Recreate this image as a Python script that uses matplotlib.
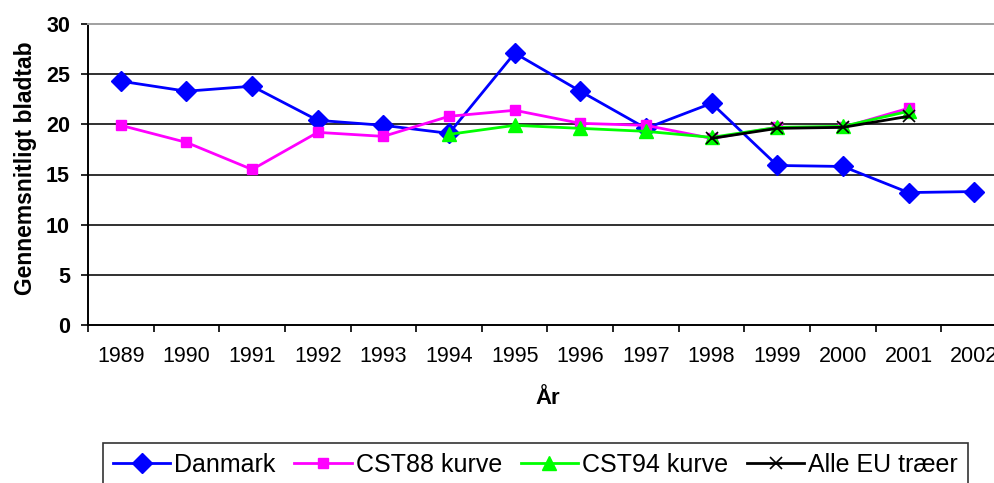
import matplotlib
matplotlib.use("Agg")
import matplotlib.pyplot as plt
import numpy as np

years = ["1989", "1990", "1991", "1992", "1993", "1994", "1995",
         "1996", "1997", "1998", "1999", "2000", "2001", "2002"]
danmark = [24.3, 23.3, 23.8, 20.4, 19.9, 19.1, 27.1, 23.3, 19.6, 22.1, 15.9, 15.8, 13.2, 13.3]
cst88 = [19.9, 18.2, 15.5, 19.2, 18.8, 20.8, 21.4, 20.1, 19.9, 18.6, 19.7, 19.7, 21.6, None]
cst94 = [None, None, None, None, None, 19.0, 19.9, 19.6, 19.3, 18.7, 19.7, 19.8, 21.3, None]
alle_eu = [None, None, None, None, None, None, None, None, None, 18.6, 19.6, 19.7, 20.8, None]

plt.rcParams['font.family'] = ['Liberation Sans', 'DejaVu Sans']

fig = plt.figure(figsize=(9.95, 4.83), dpi=100)
L, R, B, T = 88, 1007, 325, 24
W, H = 995, 483
ax = fig.add_axes([L / W, 1 - B / H, (R - L) / W, (B - T) / H])

x = np.arange(len(years))

def arr(v):
    return np.array([np.nan if a is None else a for a in v], dtype=float)

ax.plot(x, arr(danmark), color='#0000FF', lw=2.0, marker='D', ms=10,
        label='Danmark', zorder=3)
ax.plot(x, arr(cst88), color='#FF00FF', lw=2.0, marker='s', ms=7,
        label='CST88 kurve', zorder=4)
ax.plot(x, arr(cst94), color='#00FF00', lw=2.0, marker='^', ms=10,
        label='CST94 kurve', zorder=5)
ax.plot(x, arr(alle_eu), color='black', lw=2.0, marker='x', ms=9, mew=1.2,
        label='Alle EU træer', zorder=6)

ax.set_xlim(-0.5, len(years) - 0.5)
ax.set_ylim(0, 30)
ax.set_yticks(np.arange(0, 31, 5))
for yv in range(5, 30, 5):
    ax.axhline(yv, color='#202020', lw=1.3, zorder=1)

ax.set_xticks(x)
ax.set_xticklabels(years, fontsize=15.5)
ax.set_xticks(np.arange(-0.5, len(years), 1.0), minor=True)
ax.tick_params(axis='x', which='major', length=0, pad=15)
ax.tick_params(axis='x', which='minor', length=5, width=1.2, direction='out', color='black')
ax.tick_params(axis='y', length=5, width=1.2, direction='out', pad=8, labelsize=15.5)
for lbl in ax.get_yticklabels():
    lbl.set_fontweight('bold')

for s in ['left', 'bottom']:
    ax.spines[s].set_color('black')
    ax.spines[s].set_linewidth(1.4)
ax.spines['top'].set_color('#a0a0a0')
ax.spines['top'].set_linewidth(1.4)
ax.spines['right'].set_visible(False)

ax.set_xlabel('År', fontsize=16, fontweight='bold')
ax.xaxis.set_label_coords(0.5005, -0.21)
ax.set_ylabel('Gennemsnitligt bladtab', fontsize=16.5, fontweight='bold')
ax.yaxis.set_label_coords(-0.056, 0.52)

leg = fig.legend(loc='upper left', bbox_to_anchor=(103 / W, 1 - 443 / H),
                 ncol=4, fontsize=18, frameon=True, fancybox=False,
                 handlelength=2.3, handletextpad=0.15, columnspacing=0.75,
                 borderpad=0.4, borderaxespad=0)
leg.get_frame().set_edgecolor('black')
leg.get_frame().set_linewidth(1.2)

fig.savefig('out.png', dpi=100)
